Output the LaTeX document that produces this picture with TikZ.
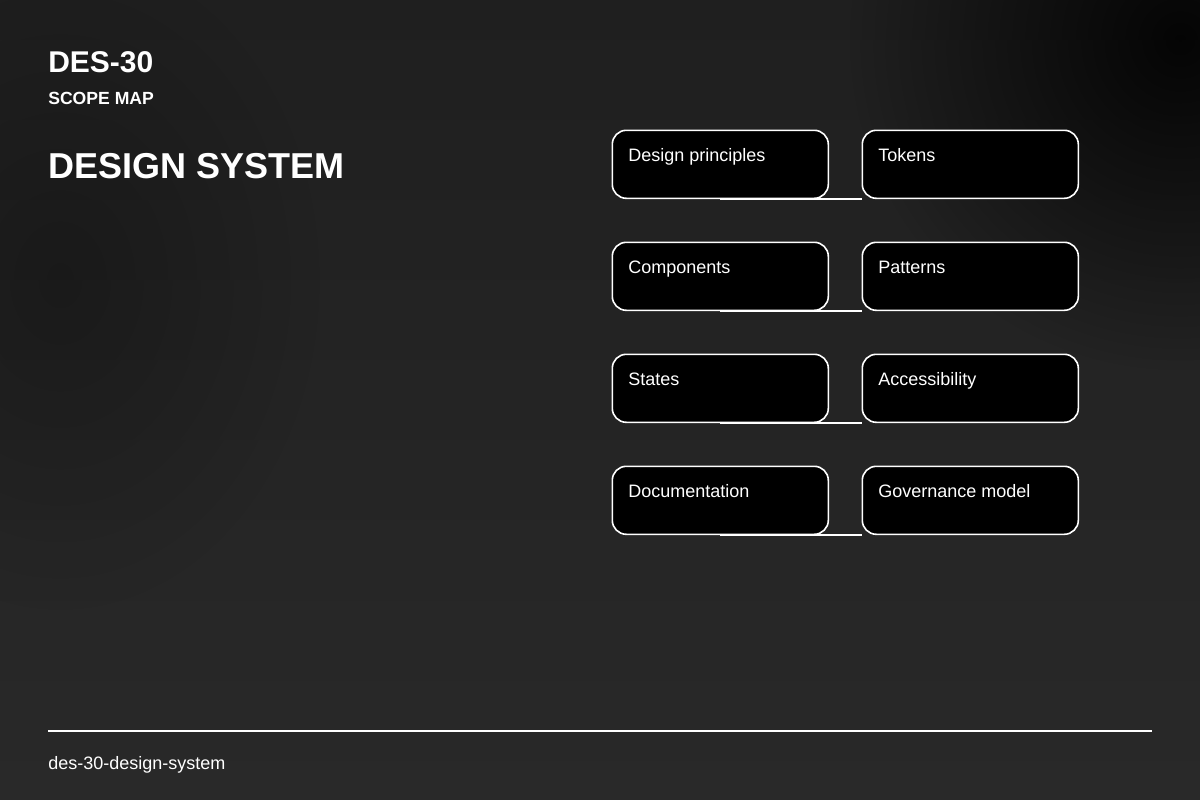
\documentclass[tikz,border=0pt]{standalone}
\usepackage{fontspec}
\setmainfont{Liberation Sans}
\usetikzlibrary{calc,fadings}
\definecolor{bgtop}{HTML}{1F1F1F}
\definecolor{bgbot}{HTML}{292929}
\tikzfading[name=radfade, inner color=transparent!0, outer color=transparent!100]
\tikzset{
  card/.style={draw=white, line width=1.2pt, fill=black, rounded corners=10.5pt,
    minimum width=162pt, minimum height=51pt, inner sep=0pt, anchor=north west},
  cardlbl/.style={text=white, font=\fontsize{13.5pt}{16pt}\selectfont, anchor=base west, inner sep=0pt},
  link/.style={draw=white, line width=1.2pt},
}
\begin{document}
\begin{tikzpicture}[x=0.75pt,y=-0.75pt]
\useasboundingbox (0,0) rectangle (1200,800);
% background
\shade[top color=bgtop, bottom color=bgbot] (0,0) rectangle (1200,800);
\fill[black, path fading=radfade, opacity=0.85] (1180,40) ellipse [x radius=330, y radius=330];
\fill[black, path fading=radfade, opacity=0.25] (60,280) ellipse [x radius=260, y radius=330];
% titles
\node[text=white, font=\bfseries\fontsize{22.5pt}{26pt}\selectfont, anchor=base west, inner sep=0pt] (code) at (48,72) {DES-30};
\node[text=white, font=\bfseries\fontsize{13.2pt}{16pt}\selectfont, anchor=base west, inner sep=0pt] (sub) at (48,104) {SCOPE MAP};
\node[text=white, font=\bfseries\fontsize{27pt}{32pt}\selectfont, anchor=base west, inner sep=0pt] (title) at (48,178) {DESIGN SYSTEM};
% cards
\foreach \n/\x/\y/\t in {a/611.5/129.5/Design principles, b/861.5/129.5/Tokens,
  c/611.5/241.5/Components, d/861.5/241.5/Patterns,
  e/611.5/353.5/States, f/861.5/353.5/Accessibility,
  g/611.5/465.5/Documentation, h/861.5/465.5/Governance model}{
  \node[card] (\n) at (\x,\y) {};
  \node[cardlbl] (\n l) at ($(\n.north west)+(16.5,31.5)$) {\t};
}
\draw[link] (a.south) -- (b.south west);
\draw[link] (c.south) -- (d.south west);
\draw[link] (e.south) -- (f.south west);
\draw[link] (g.south) -- (h.south west);
% footer
\coordinate (fl) at (48,731);
\coordinate (fr) at (1152,731);
\draw[white, line width=1.5pt] (fl) -- (fr);
\node[text=white, font=\fontsize{13.5pt}{16pt}\selectfont, anchor=base west, inner sep=0pt] (foot) at (48,769) {des-30-design-system};
\end{tikzpicture}
\end{document}
